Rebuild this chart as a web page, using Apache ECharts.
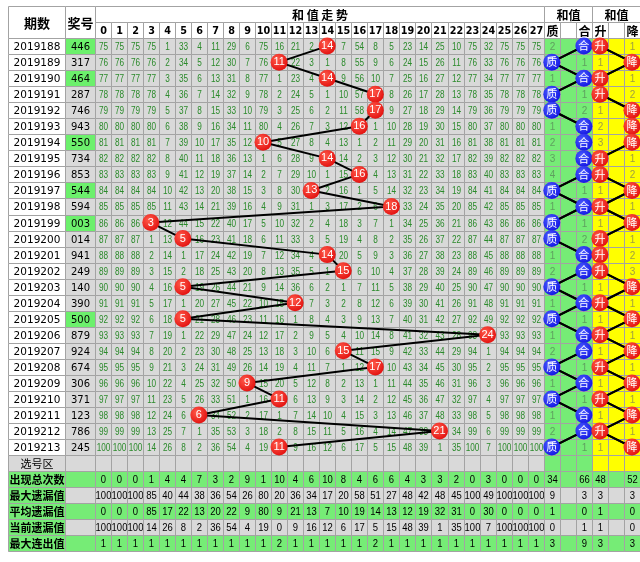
<!DOCTYPE html>
<html><head><meta charset="utf-8">
<script src="https://cdn.jsdelivr.net/npm/echarts@6/dist/echarts.min.js"></script>
<style>html,body{margin:0;padding:0;background:#fff}#c{width:640px;height:562px}</style>
</head><body><div id="c"></div>
<script>
// ---------------- data ----------------
const periods = ['2019188','2019189','2019190','2019191','2019192','2019193','2019194','2019195','2019196','2019197','2019198','2019199','2019200','2019201','2019202','2019203','2019204','2019205','2019206','2019207','2019208','2019209','2019210','2019211','2019212','2019213'];
const prizeNumbers = ['446','317','464','287','746','943','550','734','853','544','594','003','014','941','249','140','390','500','879','924','674','306','371','123','786','245'];
const prizeHighlight = [1,0,1,0,0,0,1,0,0,1,0,1,0,0,0,0,0,1,0,0,0,0,0,0,0,0];
const sums = [14,11,14,17,17,16,10,14,16,13,18,3,5,14,15,5,12,5,24,15,17,9,11,6,21,11];
const sumLabels = ['0','1','2','3','4','5','6','7','8','9','10','11','12','13','14','15','16','17','18','19','20','21','22','23','24','25','26','27'];
const missing = [
 [75,75,75,75,1,33,4,11,29,6,75,16,21,2,0,7,54,8,5,23,14,25,10,75,32,75,75,75],
 [76,76,76,76,2,34,5,12,30,7,76,0,22,3,1,8,55,9,6,24,15,26,11,76,33,76,76,76],
 [77,77,77,77,3,35,6,13,31,8,77,1,23,4,0,9,56,10,7,25,16,27,12,77,34,77,77,77],
 [78,78,78,78,4,36,7,14,32,9,78,2,24,5,1,10,57,0,8,26,17,28,13,78,35,78,78,78],
 [79,79,79,79,5,37,8,15,33,10,79,3,25,6,2,11,58,0,9,27,18,29,14,79,36,79,79,79],
 [80,80,80,80,6,38,9,16,34,11,80,4,26,7,3,12,0,1,10,28,19,30,15,80,37,80,80,80],
 [81,81,81,81,7,39,10,17,35,12,0,5,27,8,4,13,1,2,11,29,20,31,16,81,38,81,81,81],
 [82,82,82,82,8,40,11,18,36,13,1,6,28,9,0,14,2,3,12,30,21,32,17,82,39,82,82,82],
 [83,83,83,83,9,41,12,19,37,14,2,7,29,10,1,15,0,4,13,31,22,33,18,83,40,83,83,83],
 [84,84,84,84,10,42,13,20,38,15,3,8,30,0,2,16,1,5,14,32,23,34,19,84,41,84,84,84],
 [85,85,85,85,11,43,14,21,39,16,4,9,31,1,3,17,2,6,0,33,24,35,20,85,42,85,85,85],
 [86,86,86,0,12,44,15,22,40,17,5,10,32,2,4,18,3,7,1,34,25,36,21,86,43,86,86,86],
 [87,87,87,1,13,0,16,23,41,18,6,11,33,3,5,19,4,8,2,35,26,37,22,87,44,87,87,87],
 [88,88,88,2,14,1,17,24,42,19,7,12,34,4,0,20,5,9,3,36,27,38,23,88,45,88,88,88],
 [89,89,89,3,15,2,18,25,43,20,8,13,35,5,1,0,6,10,4,37,28,39,24,89,46,89,89,89],
 [90,90,90,4,16,0,19,26,44,21,9,14,36,6,2,1,7,11,5,38,29,40,25,90,47,90,90,90],
 [91,91,91,5,17,1,20,27,45,22,10,15,0,7,3,2,8,12,6,39,30,41,26,91,48,91,91,91],
 [92,92,92,6,18,0,21,28,46,23,11,16,1,8,4,3,9,13,7,40,31,42,27,92,49,92,92,92],
 [93,93,93,7,19,1,22,29,47,24,12,17,2,9,5,4,10,14,8,41,32,43,28,93,0,93,93,93],
 [94,94,94,8,20,2,23,30,48,25,13,18,3,10,6,0,11,15,9,42,33,44,29,94,1,94,94,94],
 [95,95,95,9,21,3,24,31,49,26,14,19,4,11,7,1,12,0,10,43,34,45,30,95,2,95,95,95],
 [96,96,96,10,22,4,25,32,50,0,15,20,5,12,8,2,13,1,11,44,35,46,31,96,3,96,96,96],
 [97,97,97,11,23,5,26,33,51,1,16,0,6,13,9,3,14,2,12,45,36,47,32,97,4,97,97,97],
 [98,98,98,12,24,6,0,34,52,2,17,1,7,14,10,4,15,3,13,46,37,48,33,98,5,98,98,98],
 [99,99,99,13,25,7,1,35,53,3,18,2,8,15,11,5,16,4,14,47,38,0,34,99,6,99,99,99],
 [100,100,100,14,26,8,2,36,54,4,19,0,9,16,12,6,17,5,15,48,39,1,35,100,7,100,100,100]
];
const zhiHe = ['合','质','合','质','质','合','合','合','合','质','合','质','质','合','合','质','合','质','合','合','质','合','质','合','合','质'];
const zhiHeMiss = [2,1,1,1,2,1,2,3,4,1,1,1,2,1,2,1,1,1,1,2,1,1,1,1,2,1];
const shengJiang = ['升','降','升','升','降','降','降','升','升','降','升','降','升','升','升','降','升','降','升','降','升','降','升','降','升','降'];
const shengJiangMiss = [1,1,1,2,1,2,3,1,2,1,1,1,1,2,3,1,1,1,1,1,1,1,1,1,1,1];
const statLabels = ['出现总次数','最大遗漏值','平均遗漏值','当前遗漏值','最大连出值'];
const statCount   = [0,0,0,1,4,4,7,3,2,9,1,10,4,6,10,8,4,6,6,4,3,3,2,0,3,0,0,0];
const statMaxMiss = [100,100,100,85,40,44,38,36,54,26,80,20,36,34,17,20,58,51,27,48,42,48,45,100,49,100,100,100];
const statAvgMiss = [0,0,0,85,17,22,13,20,22,9,80,9,21,13,7,10,19,14,13,12,19,32,31,0,30,0,0,0];
const statCurMiss = [100,100,100,14,26,8,2,36,54,4,19,0,9,16,12,6,17,5,15,48,39,1,35,100,7,100,100,100];
const statMaxRun  = [1,1,1,1,1,1,1,1,1,1,1,2,1,1,1,1,1,2,1,1,1,1,1,1,1,1,1,1];
const sideCount   = [34,'',66,48,'',52];
const sideMaxMiss = [9,'',3,3,'',3];
const sideAvgMiss = [1,'',0,1,'',0];
const sideCurMiss = [0,'',1,1,'',0];
const sideMaxRun  = [3,'',9,3,'',3];

// ---------------- layout / style ----------------
const X_PRIZE0 = 3.58, X0 = 5.4, NCOL = 34, XMAX = X0 + NCOL;
const HEAD_ROWS = 2, NROWS = HEAD_ROWS + periods.length + 1 + statLabels.length;
const C = {
  border:'#a3a3a3', gray:'#d9d9d9', white:'#ffffff', green:'#76ec76', pair:'#6cf06c',
  yellow:'#ffff00', gridText:'#2b8a2b', sideGreenText:'#5f9f5f', sideYellowText:'#a0a040'
};
function glossy(light, dark){
  return {type:'radial', x:0.38, y:0.35, r:0.75, colorStops:[{offset:0,color:light},{offset:1,color:dark}]};
}
const RED = glossy('#ff5a4a','#e00a0a'), BLUE = glossy('#4a5cff','#1010e0');
const CJK = "'Noto Sans CJK SC', sans-serif";
const F = {
  head:"bold 12px " + CJK, headNum:"bold 11px 'DejaVu Sans', sans-serif",
  period:"10.5px 'DejaVu Sans', sans-serif", prize:"10px 'DejaVu Sans', sans-serif",
  grid:"10px 'Liberation Sans', sans-serif", stat:"11px 'Liberation Sans', sans-serif",
  label:"bold 11px " + CJK, side:"10px 'Liberation Sans', sans-serif", cjk:"11px " + CJK
};

const cells = [];
function add(x0,x1,y0,y1,fill,text,color,font,sx){
  cells.push({x0,x1,y0,y1,fill,text:(text===null||text===undefined)?'':String(text),color:color||'#000',font:font||F.grid,sx:sx||1});
}
function colSpan(k){ return [X0+k, X0+k+1]; }

// header
add(0,X_PRIZE0,0,2,C.white,'期数','#000',"bold 13px "+CJK);
add(X_PRIZE0,X0,0,2,C.white,'奖号','#000',"bold 13px "+CJK);
add(X0,X0+28,0,1,C.white,'和 值 走 势','#000',F.head);
sumLabels.forEach((t,k)=>{ const s=colSpan(k); add(s[0],s[1],1,2,C.white,t,'#000',F.headNum,0.88); });
add(X0+28,X0+31,0,1,C.white,'和值','#000',F.head);
add(X0+31,X0+34,0,1,C.white,'和值','#000',F.head);
['质','','合','升','','降'].forEach((t,j)=>{ const s=colSpan(28+j); add(s[0],s[1],1,2,C.white,t,'#000',F.head); });

// data rows
periods.forEach((p,i)=>{
  const y0 = HEAD_ROWS+i, y1 = y0+1;
  add(0,X_PRIZE0,y0,y1,C.white,p,'#000',F.period);
  add(X_PRIZE0,X0,y0,y1,prizeHighlight[i]?C.pair:C.gray,prizeNumbers[i],'#000',F.prize);
  missing[i].forEach((v,k)=>{ const s=colSpan(k); add(s[0],s[1],y0,y1,C.gray,sums[i]===k?'':v,C.gridText,F.grid,0.82); });
  const zh = zhiHe[i], sj = shengJiang[i];
  [zh==='合'?zhiHeMiss[i]:'', '', zh==='质'?zhiHeMiss[i]:''].forEach((t,j)=>{ const s=colSpan(28+j); add(s[0],s[1],y0,y1,C.green,t,C.sideGreenText,F.side); });
  [sj==='降'?shengJiangMiss[i]:'', '', sj==='升'?shengJiangMiss[i]:''].forEach((t,j)=>{ const s=colSpan(31+j); add(s[0],s[1],y0,y1,C.yellow,t,C.sideYellowText,F.side); });
});

// 选号区
{
  const y0 = HEAD_ROWS+periods.length, y1 = y0+1;
  add(0,X_PRIZE0,y0,y1,C.gray,'选号区','#000',F.cjk);
  add(X_PRIZE0,X0,y0,y1,C.gray,'');
  for(let k=0;k<28;k++){ const s=colSpan(k); add(s[0],s[1],y0,y1,C.gray,''); }
  for(let j=0;j<3;j++){ const s=colSpan(28+j); add(s[0],s[1],y0,y1,C.green,''); }
  for(let j=0;j<3;j++){ const s=colSpan(31+j); add(s[0],s[1],y0,y1,C.yellow,''); }
}

// statistics
const statRows = [statCount,statMaxMiss,statAvgMiss,statCurMiss,statMaxRun];
const sideRows = [sideCount,sideMaxMiss,sideAvgMiss,sideCurMiss,sideMaxRun];
statLabels.forEach((lab,j)=>{
  const y0 = HEAD_ROWS+periods.length+1+j, y1 = y0+1;
  const bg = (j%2===0)?C.green:C.gray;
  add(0,X_PRIZE0,y0,y1,C.green,lab,'#000',F.label);
  add(X_PRIZE0,X0,y0,y1,bg,'');
  statRows[j].forEach((v,k)=>{ const s=colSpan(k); add(s[0],s[1],y0,y1,bg,v,'#000',F.stat,0.86); });
  sideRows[j].forEach((v,k)=>{ const s=colSpan(28+k); add(s[0],s[1],y0,y1,bg,v,'#000',F.stat,0.86); });
});

// ---------------- chart ----------------
const chart = echarts.init(document.getElementById('c'), null, {renderer:'canvas'});
const cellSeries = {
  type:'custom', coordinateSystem:'cartesian2d', silent:true, z:1, animation:false,
  data: cells.map(c=>[c.x0,c.y0,c.x1,c.y1]),
  encode:{x:[0,2], y:[1,3]},
  renderItem:(params, api)=>{
    const c = cells[params.dataIndex];
    const p0 = api.coord([c.x0,c.y0]), p1 = api.coord([c.x1,c.y1]);
    const xa = Math.round(Math.min(p0[0],p1[0])), xb = Math.round(Math.max(p0[0],p1[0]));
    const ya = Math.round(Math.min(p0[1],p1[1])), yb = Math.round(Math.max(p0[1],p1[1]));
    const ch = [{type:'rect', shape:{x:xa+0.5,y:ya+0.5,width:xb-xa,height:yb-ya},
      style:{fill:c.fill, stroke:C.border, lineWidth:1}}];
    if(c.text!==''){
      ch.push({type:'text', x:(xa+xb)/2+0.5, y:(ya+yb)/2+1, scaleX:c.sx,
        style:{text:c.text, x:0, y:0, align:'center', verticalAlign:'middle', fill:c.color, font:c.font}});
    }
    return {type:'group', children:ch};
  }
};

// point sets (in axis units, derived from the data arrays)
const hitPts = sums.map((s,i)=>[X0+s+0.5, HEAD_ROWS+i+0.5]);
const zhPts = zhiHe.map((v,i)=>[X0+(v==='质'?28:30)+0.5, HEAD_ROWS+i+0.5]);
const sjPts = shengJiang.map((v,i)=>[X0+(v==='升'?31:33)+0.5, HEAD_ROWS+i+0.5]);

// connector segments for the side columns, drawn through the axes
const segs = [];
[zhPts, sjPts].forEach(pts=>{ for(let i=1;i<pts.length;i++) segs.push([pts[i-1][0],pts[i-1][1],pts[i][0],pts[i][1]]); });
const connectorSeries = {
  type:'custom', coordinateSystem:'cartesian2d', silent:true, z:4, animation:false, clip:false,
  data: segs, encode:{x:[0,2], y:[1,3]},
  renderItem:(params, api)=>{
    const a = api.coord([api.value(0), api.value(1)]), b = api.coord([api.value(2), api.value(3)]);
    return {type:'line', shape:{x1:a[0],y1:a[1],x2:b[0],y2:b[1]}, style:{stroke:'#000', lineWidth:2}};
  }
};

function circleLine(data, color, fmt, size, fam){
  return {type:'line', data, symbol:'circle', symbolSize:size, showAllSymbol:true, animation:false, silent:true, z:5,
    clip:false, itemStyle:{color, borderWidth:0}, lineStyle:{color:'#000', width:2, opacity:1},
    label:{show:true, position:'inside', formatter:fmt, color:'#fff', fontSize:11, fontFamily:fam}};
}
const hitSeries = circleLine(hitPts, RED, p=>String(sums[p.dataIndex]), 17, "'Liberation Sans', sans-serif");
const zhSeries = circleLine(zhPts, BLUE, p=>zhiHe[p.dataIndex], 17, CJK);
const sjSeries = circleLine(sjPts, RED, p=>shengJiang[p.dataIndex], 17, CJK);

chart.setOption({
  animation:false,
  backgroundColor:'#ffffff',
  grid:{left:8, top:6, width:632, height:NROWS*16.04, containLabel:false},
  xAxis:{type:'value', min:0, max:XMAX, show:false},
  yAxis:{type:'value', min:0, max:NROWS, inverse:true, show:false},
  series:[cellSeries, connectorSeries, hitSeries, zhSeries, sjSeries]
});
</script>
</body></html>
